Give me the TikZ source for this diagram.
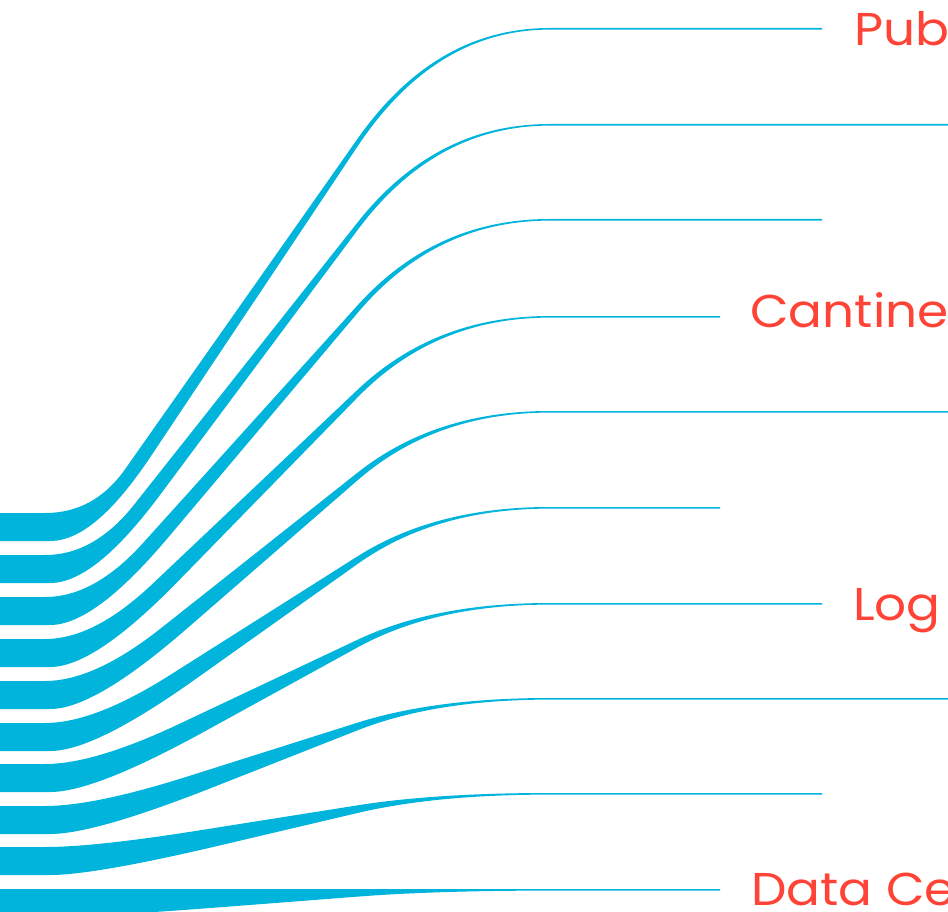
\documentclass[tikz,border=0pt]{standalone}
\usepackage{fontspec}
\newfontfamily\tagfont{Poppins}[FakeStretch=1.09]
\usetikzlibrary{positioning}
\definecolor{flow-cyan}{HTML}{00B4DB}
\definecolor{label-red}{HTML}{FF4336}

\begin{document}
\begin{tikzpicture}[
    x=1pt, y=-1pt,
    band/.style={fill=flow-cyan, draw=none},
    tag/.style={anchor=base west, inner sep=0pt, text=label-red,
                font=\tagfont\fontsize{46}{46}\selectfont}
]
  % Frame
  \useasboundingbox (0,0) rectangle (948,912);
  \clip (0,0) rectangle (948,912);

  % Flow bands: left top edge / right level / line end
  \foreach \yl/\yr/\xe in {513/28/822, 555/124/960, 597/219/822, 639/316/720,
                           681/411/960, 723/507/720, 764/603/822, 806/698/960,
                           847/793/822, 889/889/720}{
    % top edge
    \pgfmathsetmacro{\d}{\yr-\yl}
    \pgfmathsetmacro{\xb}{125+80*(1-abs(\d)/485)}
    \pgfmathsetmacro{\xc}{94+(\xb-94)/3}
    \pgfmathsetmacro{\fb}{0.09+(\xb-125)*0.00293}
    \pgfmathsetmacro{\ta}{\yl+\fb/3*\d}
    \pgfmathsetmacro{\tb}{\yl+\fb*\d}
    \pgfmathsetmacro{\tc}{\yl+0.77*\d}
    \pgfmathsetmacro{\td}{\yl+0.923*\d}
    % bottom edge, bending a little later
    \pgfmathsetmacro{\xbb}{\xb+25}
    \pgfmathsetmacro{\xcb}{94+(\xbb-94)/3}
    \pgfmathsetmacro{\fbb}{0.09+(\xbb-125)*0.00293}
    \pgfmathsetmacro{\ylb}{\yl+28}
    \pgfmathsetmacro{\yrb}{\yr+1.6}
    \pgfmathsetmacro{\e}{\yrb-\ylb}
    \pgfmathsetmacro{\ba}{\ylb+\fbb/3*\e}
    \pgfmathsetmacro{\bb}{\ylb+\fbb*\e}
    \pgfmathsetmacro{\bc}{\ylb+0.77*\e}
    \pgfmathsetmacro{\bd}{\ylb+0.923*\e}
    \fill[band] (-5,\yl) -- (45,\yl) .. controls (78,\yl) and (\xc,\ta) .. (\xb,\tb)
      -- (357,\tc) .. controls (409,\td) and (473,\yr) .. (550,\yr)
      -- (\xe,\yr) -- (\xe,\yrb) -- (550,\yrb)
      .. controls (473,\yrb) and (409,\bd) .. (357,\bc)
      -- (\xbb,\bb) .. controls (\xcb,\ba) and (80,\ylb) .. (50,\ylb)
      -- (-5,\ylb) -- cycle;
  }

  % Labels
  \node[tag] (pub) at (854,46) {Pub};
  \node[tag] (cantine) at (750,327) {Cantine};
  \node[tag] (log) at (853,620) {Log};
  \node[tag] (datace) at (751,905) {Data Ce};
\end{tikzpicture}
\end{document}
